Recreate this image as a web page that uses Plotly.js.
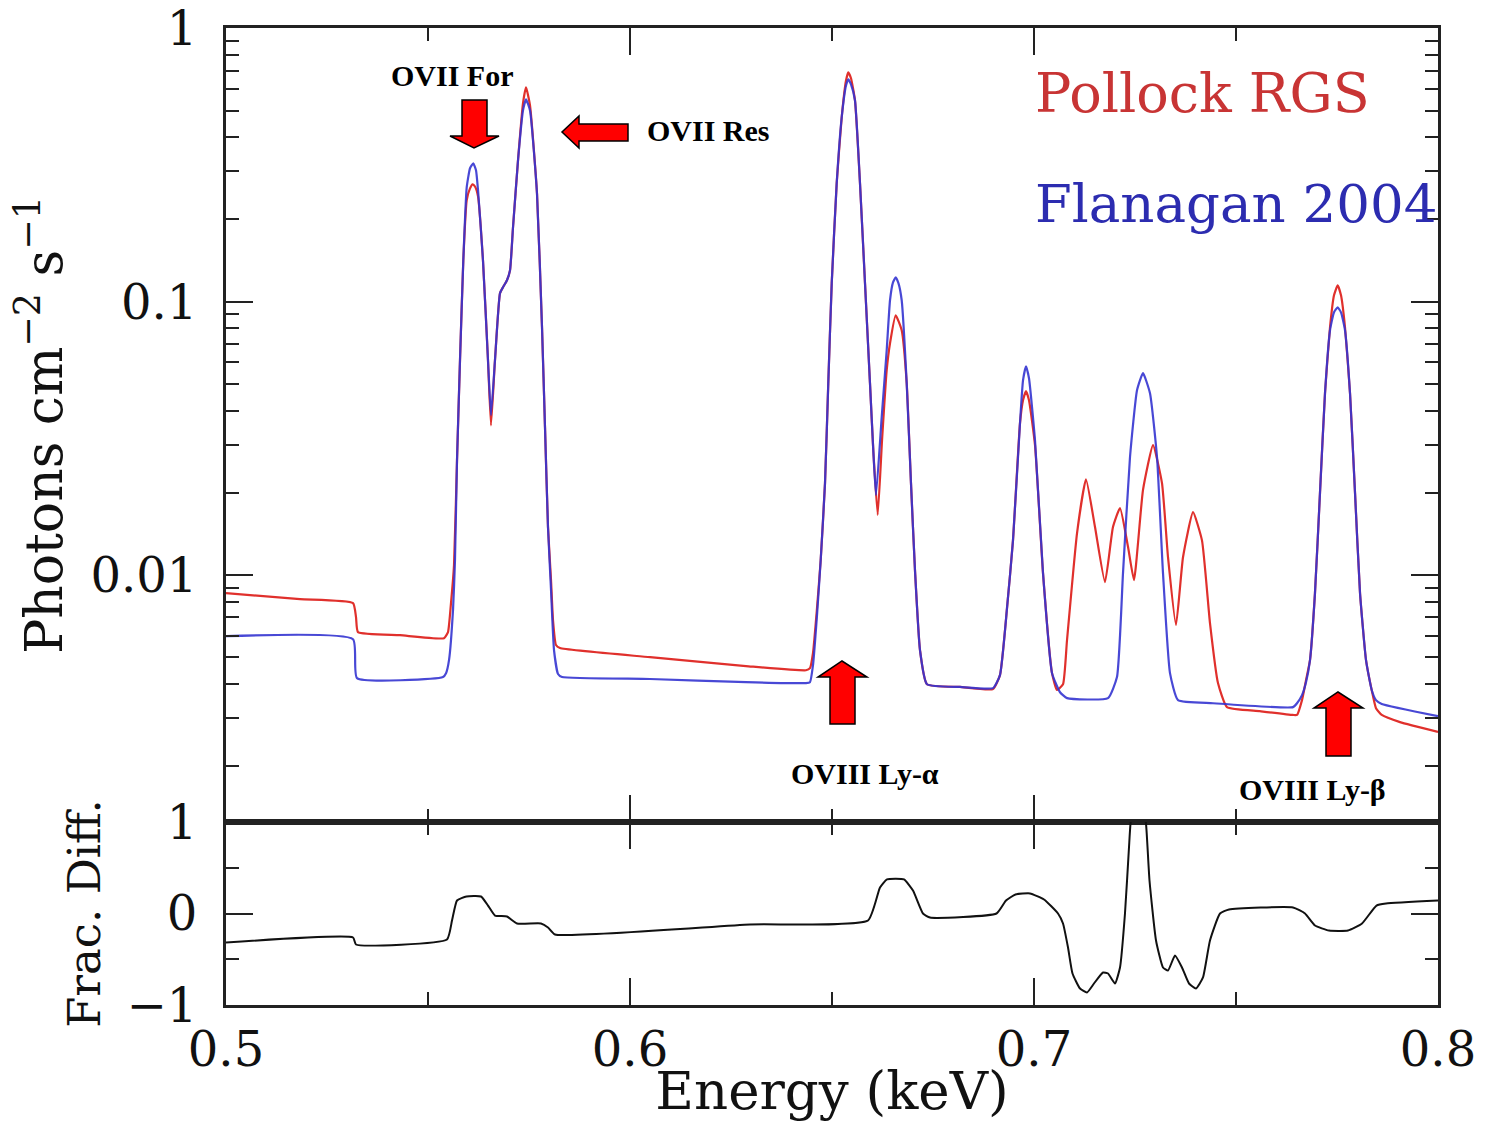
<!DOCTYPE html>
<html><head><meta charset="utf-8">
<script src="https://cdn.plot.ly/plotly-3.0.1.min.js"></script>
<style>html,body{margin:0;padding:0;background:#fff}#chart{width:1485px;height:1121px}</style>
</head><body><div id="chart"></div>
<script>
// ---------------- data ----------------
const seriesNames = ['Pollock RGS', 'Flanagan 2004'];

const energyPollock = [0.5,0.51832,0.53144,0.53218,0.53267,0.54307,0.55396,0.55495,0.55569,0.55644,0.55718,0.55792,0.55874,0.55958,0.5604,0.56106,0.56163,0.56238,0.56361,0.56485,0.56559,0.56658,0.56782,0.56856,0.56955,0.5703,0.57104,0.57228,0.57351,0.57426,0.57525,0.57698,0.57822,0.57896,0.5797,0.58045,0.58094,0.58168,0.58267,0.60495,0.62871,0.64356,0.64455,0.6453,0.64629,0.6472,0.64827,0.64908,0.64993,0.65116,0.6524,0.65347,0.65403,0.6547,0.65569,0.65693,0.65817,0.6594,0.66022,0.66131,0.66238,0.66354,0.66436,0.66577,0.66725,0.66849,0.66955,0.67054,0.67178,0.67351,0.68168,0.68985,0.69158,0.69332,0.6948,0.69653,0.69728,0.69802,0.69876,0.70025,0.70223,0.70446,0.70569,0.70718,0.70817,0.71064,0.71287,0.7151,0.71757,0.71955,0.72129,0.72327,0.72475,0.72698,0.72946,0.73168,0.73317,0.73515,0.73688,0.73936,0.74158,0.74356,0.74554,0.74777,0.75594,0.76411,0.7651,0.76634,0.76733,0.76832,0.76955,0.77079,0.77203,0.77327,0.77426,0.77517,0.77599,0.77698,0.77822,0.77946,0.7807,0.78218,0.78359,0.78465,0.78607,0.7906,0.8];
const fluxPollock = [0.00859,0.00817,0.0079,0.00702,0.00619,0.00603,0.00588,0.00619,0.0079,0.01088,0.0263,0.0611,0.1418,0.235,0.26,0.269,0.264,0.243,0.1418,0.0611,0.0353,0.0611,0.1074,0.113,0.1199,0.1303,0.187,0.329,0.532,0.609,0.523,0.249,0.0807,0.0348,0.015,0.00959,0.00685,0.00555,0.00541,0.00501,0.00465,0.00449,0.00457,0.00519,0.00757,0.01134,0.0217,0.0504,0.1168,0.271,0.473,0.645,0.69,0.657,0.545,0.271,0.1168,0.0504,0.0286,0.0166,0.0311,0.0562,0.0705,0.0892,0.0787,0.0504,0.0217,0.01043,0.00532,0.00399,0.0039,0.00383,0.00431,0.00757,0.0134,0.0359,0.0436,0.0471,0.0436,0.0299,0.01017,0.00438,0.0038,0.00399,0.00578,0.0142,0.0224,0.015,0.00943,0.015,0.0176,0.0127,0.00959,0.0205,0.0299,0.0217,0.01163,0.00657,0.01163,0.017,0.0134,0.00668,0.00403,0.00329,0.00318,0.00308,0.00308,0.00349,0.00413,0.00489,0.00859,0.02,0.0463,0.0807,0.1056,0.1149,0.1056,0.0807,0.0463,0.02,0.00859,0.00489,0.0038,0.00326,0.00308,0.0029,0.00267];

const energyFlanagan = [0.5,0.53144,0.53243,0.55371,0.55446,0.5552,0.55619,0.55668,0.55718,0.55792,0.55874,0.55958,0.5604,0.56121,0.56188,0.56238,0.56361,0.56485,0.56559,0.56658,0.56782,0.56856,0.56955,0.5703,0.57104,0.57228,0.57351,0.57426,0.57525,0.57698,0.57822,0.57896,0.5797,0.58045,0.58119,0.58218,0.58317,0.60495,0.62871,0.64356,0.64455,0.6453,0.64629,0.6472,0.64827,0.64908,0.64993,0.65116,0.6524,0.65347,0.65403,0.6547,0.65569,0.65693,0.65817,0.6594,0.66022,0.66089,0.6623,0.66354,0.66436,0.6651,0.66577,0.66646,0.66725,0.66849,0.66955,0.67054,0.67178,0.67351,0.68168,0.68985,0.69158,0.69332,0.6948,0.69653,0.69728,0.69802,0.69876,0.70025,0.70223,0.70446,0.70644,0.70817,0.71832,0.72054,0.72203,0.72376,0.7255,0.72698,0.72871,0.73045,0.73193,0.73366,0.73564,0.74431,0.76411,0.7651,0.76634,0.76733,0.76832,0.76955,0.77079,0.77203,0.77327,0.77426,0.77517,0.77599,0.77698,0.77822,0.77946,0.7807,0.78218,0.78359,0.78465,0.78607,0.8];
const fluxFlanagan = [0.00598,0.00583,0.0042,0.00424,0.00438,0.00489,0.00745,0.01134,0.0263,0.0611,0.1418,0.262,0.308,0.321,0.303,0.256,0.1418,0.0611,0.0385,0.0611,0.1074,0.113,0.1199,0.1303,0.187,0.329,0.501,0.55,0.501,0.249,0.0807,0.0348,0.015,0.00882,0.00532,0.00435,0.00424,0.00417,0.00406,0.00403,0.00406,0.00469,0.00714,0.01134,0.0217,0.0504,0.1168,0.271,0.473,0.619,0.651,0.624,0.545,0.271,0.1168,0.0504,0.0286,0.0196,0.0378,0.0665,0.1013,0.1178,0.1229,0.1168,0.1013,0.0504,0.0217,0.01043,0.00532,0.00399,0.0039,0.00386,0.00431,0.00757,0.0134,0.0359,0.0516,0.0581,0.0525,0.0311,0.01017,0.00438,0.00373,0.00355,0.00355,0.00424,0.01017,0.027,0.0475,0.0548,0.0463,0.027,0.01017,0.00438,0.00349,0.0034,0.00329,0.0034,0.00364,0.00406,0.00489,0.00859,0.02,0.0463,0.0787,0.0915,0.0954,0.0915,0.0787,0.0463,0.02,0.00859,0.00489,0.0038,0.00349,0.00338,0.00305];

const energyDiff = [0.5,0.53144,0.53218,0.5547,0.55594,0.55718,0.55953,0.56312,0.56485,0.56658,0.56955,0.57203,0.57797,0.5797,0.58144,0.6297,0.65891,0.66188,0.66361,0.66782,0.67005,0.67252,0.67426,0.69072,0.69307,0.69542,0.69901,0.70248,0.70594,0.70718,0.70842,0.70953,0.71139,0.71312,0.71485,0.71708,0.71832,0.72005,0.72129,0.72252,0.72351,0.72389,0.72574,0.72772,0.72859,0.7302,0.73193,0.73317,0.7349,0.73663,0.73837,0.7401,0.74183,0.74356,0.74604,0.74827,0.76411,0.76708,0.76955,0.77302,0.77772,0.78119,0.78478,0.78713,0.8];
const fracDiff = [-0.317,-0.262,-0.339,-0.284,-0.077,0.142,0.186,0.186,0.087,-0.022,-0.033,-0.109,-0.109,-0.153,-0.23,-0.12,-0.077,0.284,0.372,0.372,0.251,0,-0.044,0,0.142,0.208,0.219,0.153,0,-0.109,-0.372,-0.656,-0.82,-0.863,-0.765,-0.645,-0.656,-0.765,-0.59,0,0.721,0.984,1.6,0.984,0.361,-0.295,-0.59,-0.623,-0.459,-0.59,-0.765,-0.82,-0.699,-0.295,0,0.044,0.066,0,-0.131,-0.186,-0.186,-0.109,0.087,0.109,0.142];

const xTickVals = [0.5, 0.6, 0.7, 0.8];
const xTickText = ['0.5', '0.6', '0.7', '0.8'];
const yTickVals = [0.01, 0.1, 1];
const yTickText = ['0.01', '0.1', '1'];
const yMinorVals = [0.002,0.003,0.004,0.005,0.006,0.007,0.008,0.009,0.02,0.03,0.04,0.05,0.06,0.07,0.08,0.09,0.2,0.3,0.4,0.5,0.6,0.7,0.8,0.9];
const diffTickVals = [-1, 0, 1];
const lineLabels = ['OVII For', 'OVII Res', 'OVIII Ly-α', 'OVIII Ly-β'];

// ---------------- layout helpers (pixel -> paper) ----------------
const PL = 226, PR = 1438, PT = 28, PB = 1005, SPLIT = 822;
const px = p => (p - PL) / (PR - PL);
const py = p => (PB - p) / (PB - PT);
const splitFrac = py(SPLIT);

function poly(points) {
  return 'M ' + points.map(p => px(p[0]).toFixed(5) + ',' + py(p[1]).toFixed(5)).join(' L ') + ' Z';
}
const arrowStyle = {type: 'path', xref: 'paper', yref: 'paper', fillcolor: '#ff0000', line: {color: '#000', width: 1.5}, layer: 'above'};
const arrows = [
  poly([[462,100],[487,100],[487,136],[499,136],[474,148],[450,136],[462,136]]),
  poly([[628,124],[628,141],[579,141],[579,148],[562,132],[579,116],[579,124]]),
  poly([[830,724],[855,724],[855,677],[867,677],[842,661],[818,677],[830,677]]),
  poly([[1326,756],[1351,756],[1351,708],[1363,708],[1338,692],[1314,708],[1326,708]])
].map(path => Object.assign({}, arrowStyle, {path}));

const labelFont = {family: 'Liberation Serif', size: 30, color: '#000'};
const annots = [
  {text: '<b>' + lineLabels[0] + '</b>', x: px(452), y: py(75), xanchor: 'center', yanchor: 'middle'},
  {text: '<b>' + lineLabels[1] + '</b>', x: px(645), y: py(131), xanchor: 'left', yanchor: 'middle'},
  {text: '<b>' + lineLabels[2] + '</b>', x: px(789), y: py(773), xanchor: 'left', yanchor: 'middle'},
  {text: '<b>' + lineLabels[3] + '</b>', x: px(1237), y: py(789), xanchor: 'left', yanchor: 'middle'}
].map(a => Object.assign({xref: 'paper', yref: 'paper', showarrow: false, font: labelFont}, a));

annots.push({text: seriesNames[0], x: px(1033), y: py(94), xref: 'paper', yref: 'paper', xanchor: 'left', yanchor: 'middle', showarrow: false,
  font: {family: 'DejaVu Serif', size: 54, color: '#c83434'}});
annots.push({text: seriesNames[1], x: px(1033), y: py(204), xref: 'paper', yref: 'paper', xanchor: 'left', yanchor: 'middle', showarrow: false,
  font: {family: 'DejaVu Serif', size: 53, color: '#2c2cb0'}});

const tickFont = {family: 'DejaVu Serif', size: 48, color: '#111'};
const frameCol = '#222';
const commonX = {
  range: [0.5, 0.8], tickvals: xTickVals, ticktext: xTickText,
  ticks: 'inside', ticklen: 27, tickwidth: 2, tickcolor: frameCol,
  minor: {ticks: 'inside', ticklen: 13, tickwidth: 2, dtick: 0.05, tick0: 0.5, tickcolor: frameCol, showgrid: false},
  showline: true, linecolor: frameCol, linewidth: 3, mirror: 'allticks',
  showgrid: false, zeroline: false, tickfont: tickFont
};

const smooth = 0.45;
const traces = [
  {x: energyPollock, y: fluxPollock, name: seriesNames[0], type: 'scatter', mode: 'lines', xaxis: 'x', yaxis: 'y',
   line: {color: '#e0302c', width: 2.2, shape: 'spline', smoothing: smooth}},
  {x: energyFlanagan, y: fluxFlanagan, name: seriesNames[1], type: 'scatter', mode: 'lines', xaxis: 'x', yaxis: 'y',
   line: {color: '#3434d0', width: 2.2, shape: 'spline', smoothing: smooth}, opacity: 0.9},
  {x: energyDiff, y: fracDiff, name: 'Frac. Diff.', type: 'scatter', mode: 'lines', xaxis: 'x2', yaxis: 'y2',
   line: {color: '#111', width: 2, shape: 'spline', smoothing: smooth}}
];

const layout = {
  width: 1485, height: 1121,
  margin: {l: PL, r: 1485 - PR, t: PT, b: 1121 - PB},
  paper_bgcolor: '#fff', plot_bgcolor: '#fff',
  showlegend: false,
  xaxis: Object.assign({}, commonX, {anchor: 'y', domain: [0, 1], showticklabels: false}),
  xaxis2: Object.assign({}, commonX, {anchor: 'y2', domain: [0, 1], matches: 'x', showticklabels: true, ticklabelstandoff: 0,
    title: {text: 'Energy (keV)', font: {family: 'DejaVu Serif', size: 53, color: '#111'}, standoff: 0}}),
  yaxis: {
    anchor: 'x', domain: [splitFrac, 1], type: 'log', range: [-2.903, 0.0015],
    tickvals: yTickVals, ticktext: yTickText, tickfont: tickFont, ticklabelstandoff: 16,
    ticks: 'inside', ticklen: 27, tickwidth: 2, tickcolor: frameCol,
    minor: {ticks: 'inside', ticklen: 13, tickwidth: 2, tickvals: yMinorVals, tickcolor: frameCol, showgrid: false},
    showline: true, linecolor: frameCol, linewidth: 3, mirror: 'allticks', showgrid: false, zeroline: false,
    title: {text: 'Photons cm<sup>−2</sup> s<sup>−1</sup>', font: {family: 'DejaVu Serif', size: 52, color: '#111'}, standoff: 12}
  },
  yaxis2: {
    anchor: 'x2', domain: [0, splitFrac], range: [-1, 1],
    tickvals: diffTickVals, tickfont: tickFont, ticklabelstandoff: 16,
    ticks: 'inside', ticklen: 27, tickwidth: 2, tickcolor: frameCol,
    minor: {ticks: 'inside', ticklen: 13, tickwidth: 2, dtick: 0.5, tick0: 0, tickcolor: frameCol, showgrid: false},
    showline: true, linecolor: frameCol, linewidth: 3, mirror: 'allticks', showgrid: false, zeroline: false,
    title: {text: 'Frac. Diff.', font: {family: 'DejaVu Serif', size: 45, color: '#111'}, standoff: 12}
  },
  shapes: arrows,
  annotations: annots
};

Plotly.newPlot('chart', traces, layout, {displayModeBar: false, staticPlot: true});
</script>
</body></html>
